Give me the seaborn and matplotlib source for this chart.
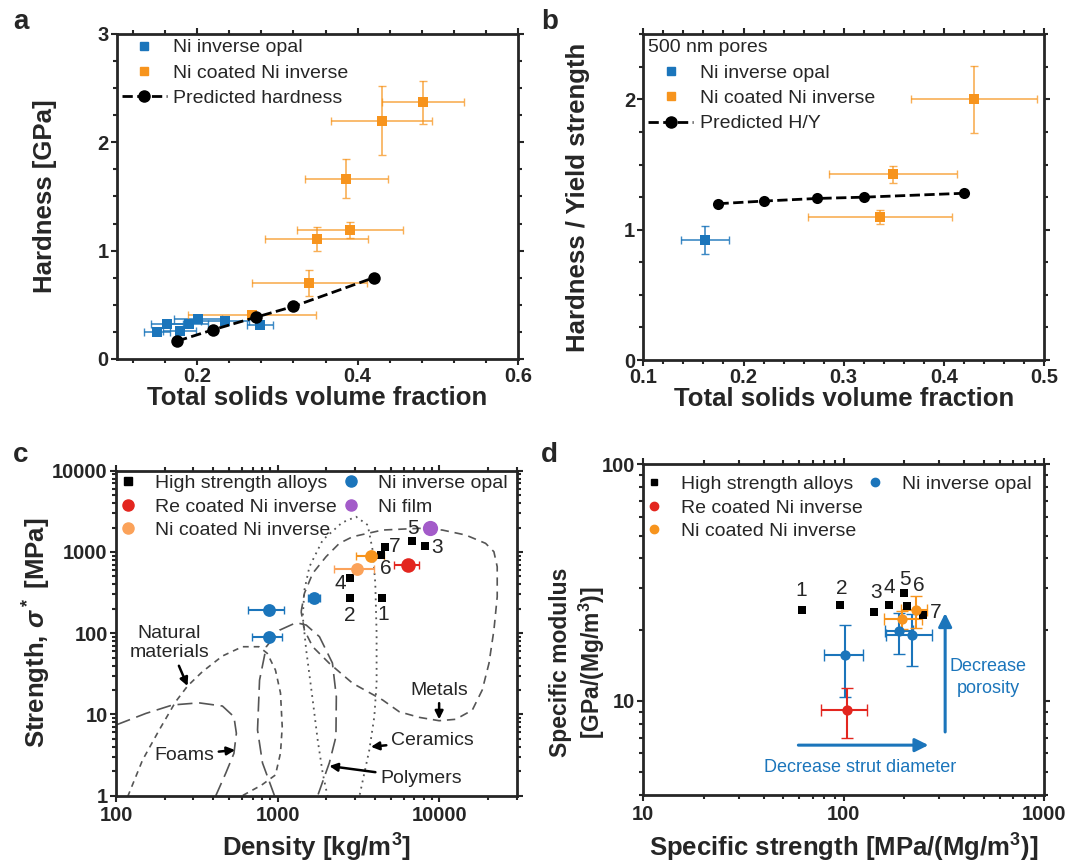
import matplotlib
matplotlib.use("Agg")
import matplotlib.pyplot as plt
import seaborn as sns
from matplotlib.lines import Line2D
from matplotlib.ticker import MultipleLocator, LogLocator, NullFormatter, FuncFormatter

# colours
BLUE = '#1b75bb'
ORANGE = '#f7941d'
LORANGE = '#fba25a'
RED = '#e3261f'
PURPLE = '#a35bc9'
GREY = '#555555'

# ---- panel a: hardness vs solids fraction
a_opal_x = [0.150, 0.162, 0.178, 0.190, 0.201, 0.235, 0.278]
a_opal_y = [0.25, 0.32, 0.255, 0.32, 0.37, 0.355, 0.315]
a_opal_xerr = [0.016, 0.020, 0.020, 0.024, 0.030, 0.030, 0.016]
a_opal_yerr = [0.02, 0.02, 0.02, 0.02, 0.02, 0.02, 0.02]

a_coat_x = [0.268, 0.340, 0.349, 0.391, 0.386, 0.430, 0.482]
a_coat_y = [0.41, 0.70, 1.11, 1.19, 1.665, 2.20, 2.37]
a_coat_xerr = [0.080, 0.072, 0.064, 0.066, 0.052, 0.063, 0.051]
a_coat_yerr = [0.02, 0.12, 0.11, 0.07, 0.18, 0.32, 0.20]

pred_x = [0.175, 0.220, 0.273, 0.320, 0.420]
pred_hard = [0.165, 0.27, 0.385, 0.485, 0.75]

# ---- panel b: H/Y ratio
b_opal_x = [0.162]
b_opal_y = [0.92]
b_opal_xerr = [0.024]
b_opal_yerr = [0.11]

b_coat_x = [0.336, 0.349, 0.430]
b_coat_y = [1.10, 1.425, 2.00]
b_coat_xerr = [0.072, 0.064, 0.063]
b_coat_yerr = [0.055, 0.067, 0.26]

pred_hy = [1.20, 1.22, 1.24, 1.25, 1.28]

# ---- panel c: Ashby strength vs density
alloy_ids = ['1', '2', '3', '4', '5', '6', '7']
alloy_rho = [4400, 2780, 8160, 2780, 6750, 4370, 4580]
alloy_str = [273, 268, 1180, 473, 1360, 916, 1160]

opal_rho = [877, 877, 1687]
opal_str = [193, 89.7, 273]
opal_rho_lo = [655, 697, 1535]
opal_rho_hi = [1101, 1067, 1829]

coat_rho = [3076, 3793]
coat_str = [611, 891]
coat_rho_lo = [2218, 3062]
coat_rho_hi = [3953, 4561]

re_rho = [6354]
re_str = [690]
re_rho_lo = [5200]
re_rho_hi = [7500]

film_rho = [8750]
film_str = [1990]

# material class envelopes (density, strength)
metals_rho = [1396, 1462, 1645, 1990, 2404, 2904, 4446, 7480, 10420, 14520, 19280, 21700,
              22750, 22750, 21700, 20230, 18380, 15950, 12600, 9950, 7480, 5640, 4446, 2904,
              2084, 1645, 1462, 1396]
metals_str = [184, 310, 546, 875, 1277, 1541, 1862, 1954, 1862, 1617, 1277, 1007,
              658, 281, 109, 42.6, 20, 11.3, 8.72, 8.38, 9.22, 10.8, 15.1, 24.2,
              42.6, 68.2, 109, 184]
ceramics_rho = [2036, 1897, 1766, 1645, 1500, 1428, 1462, 1570, 1897, 2500, 3048, 3600, 3860,
                4010, 4085, 4085, 3955, 3683, 3430, 3194]
ceramics_str = [0.97, 1.89, 4.85, 15.1, 62, 160, 340, 658, 1403, 2300, 2716, 2148, 1057,
                411, 100, 24.2, 9.4, 3.65, 1.89, 0.97]
polymers_rho = [955, 805, 750, 772, 850, 1026, 1300, 1500, 1811, 2178, 2303, 2290, 2084, 1766]
polymers_str = [1.0, 2.53, 6.44, 26.5, 68.2, 109, 135, 126, 90.6, 43, 16.5, 5.32, 2.53, 1.0]
natural_rho = [118, 146, 185, 234, 277, 342, 455, 604, 765, 861, 968, 1040, 1066, 1040,
               968, 794, 604]
natural_str = [0.97, 2.75, 6.44, 14.4, 22.4, 33.6, 52.4, 68.2, 68.2, 56.6, 35.2, 18.4, 7.07,
               3.35, 1.8, 1.35, 1.0]
foams_rho = [100, 153, 224, 326, 455, 536, 555, 536, 477, 414]
foams_str = [7.42, 10.3, 13.1, 13.9, 12.7, 9.38, 5.86, 3.32, 1.89, 1.0]

# ---- panel d: specific modulus vs specific strength
d_alloy_ss = [61.7, 95.9, 142, 169, 199, 206, 248]
d_alloy_sm = [24.3, 25.5, 23.7, 25.5, 28.5, 25.1, 23.1]

d_opal_ss = [101.6, 189.6, 220]
d_opal_sm = [15.6, 19.7, 18.9]
d_opal_ss_lo = [79.3, 160.6, 162.5]
d_opal_ss_hi = [124.4, 222.6, 277]
d_opal_sm_lo = [10.4, 15.85, 14.1]
d_opal_sm_hi = [20.9, 23.5, 23.3]

d_re_ss = [103.5]
d_re_sm = [9.16]
d_re_ss_lo = [76.8]
d_re_ss_hi = [131.3]
d_re_sm_lo = [7.0]
d_re_sm_hi = [11.3]

d_coat_ss = [196.3, 228.6]
d_coat_sm = [22.1, 24.3]
d_coat_ss_lo = [158.9, 193]
d_coat_ss_hi = [245, 262]
d_coat_sm_lo = [20.2, 20.3]
d_coat_sm_hi = [24.1, 27.8]


def asym(v, lo, hi):
    return [[a - b for a, b in zip(v, lo)], [b - a for a, b in zip(v, hi)]]


def style_axes(ax):
    for s in ax.spines.values():
        s.set_linewidth(2)
        s.set_visible(True)
    ax.tick_params(which='both', direction='out', top=True, right=True, width=1.5,
                   labelsize=14.5, pad=1.5)
    ax.tick_params(which='major', length=4.5)
    ax.tick_params(which='minor', length=3)


sns.set_style("ticks")
plt.rcParams['font.family'] = ['Liberation Sans', 'DejaVu Sans']
plt.rcParams['font.weight'] = 'bold'
plt.rcParams['axes.labelweight'] = 'bold'
plt.rcParams['mathtext.fontset'] = 'custom'
plt.rcParams['mathtext.rm'] = 'Liberation Sans:bold'
plt.rcParams['mathtext.it'] = 'Liberation Sans:bold:italic'
plt.rcParams['mathtext.bf'] = 'Liberation Sans:bold'

fig = plt.figure(figsize=(10.71, 8.65), dpi=100)
LEG = dict(size=14, weight='normal')
ANN = dict(fontsize=14, fontweight='normal')
LAB = 18.5
blank = Line2D([], [], ls='none')

# =========================== a
ax = fig.add_axes([0.1092, 0.585, 0.3745, 0.3757])
ax.errorbar(a_opal_x, a_opal_y, xerr=a_opal_xerr, yerr=a_opal_yerr, fmt='none',
            ecolor=BLUE, elinewidth=1.2, capsize=3, alpha=0.85, zorder=2)
ax.errorbar(a_coat_x, a_coat_y, xerr=a_coat_xerr, yerr=a_coat_yerr, fmt='none',
            ecolor=ORANGE, elinewidth=1.2, capsize=3, alpha=0.75, zorder=2)
sns.scatterplot(x=a_opal_x, y=a_opal_y, marker='s', color=BLUE, s=45, linewidth=0, ax=ax, zorder=3)
sns.scatterplot(x=a_coat_x, y=a_coat_y, marker='s', color=ORANGE, s=50, linewidth=0, ax=ax, zorder=3)
sns.lineplot(x=pred_x, y=pred_hard, color='k', linestyle='--', lw=2, marker='o', ms=9,
             markeredgewidth=0, ax=ax, zorder=4)
ax.set_xlim(0.1, 0.6)
ax.set_ylim(0, 3)
ax.xaxis.set_major_locator(MultipleLocator(0.2))
ax.xaxis.set_minor_locator(MultipleLocator(0.04))
ax.yaxis.set_major_locator(MultipleLocator(1))
ax.yaxis.set_minor_locator(MultipleLocator(0.25))
ax.xaxis.set_major_formatter(FuncFormatter(lambda v, p: f'{v:.1f}'))
style_axes(ax)
ax.set_xlabel('Total solids volume fraction', fontsize=LAB, labelpad=0)
ax.set_ylabel('Hardness [GPa]', fontsize=LAB, labelpad=29)
h = [Line2D([], [], marker='s', color=BLUE, ls='none', ms=6),
     Line2D([], [], marker='s', color=ORANGE, ls='none', ms=6),
     Line2D([], [], marker='o', color='k', ls='--', lw=2, ms=8)]
ax.legend(h, ['Ni inverse opal', 'Ni coated Ni inverse', 'Predicted hardness'], loc='upper left',
          frameon=False, prop=LEG, handlelength=2.3, handletextpad=0.35, labelspacing=0.4,
          borderaxespad=0.1, borderpad=0.15)

# =========================== b
ax = fig.add_axes([0.6007, 0.5838, 0.3741, 0.3765])
ax.errorbar(b_opal_x, b_opal_y, xerr=b_opal_xerr, yerr=b_opal_yerr, fmt='none',
            ecolor=BLUE, elinewidth=1.2, capsize=3, alpha=0.85, zorder=2)
ax.errorbar(b_coat_x, b_coat_y, xerr=b_coat_xerr, yerr=b_coat_yerr, fmt='none',
            ecolor=ORANGE, elinewidth=1.2, capsize=3, alpha=0.75, zorder=2)
sns.scatterplot(x=b_opal_x, y=b_opal_y, marker='s', color=BLUE, s=55, linewidth=0, ax=ax, zorder=3)
sns.scatterplot(x=b_coat_x, y=b_coat_y, marker='s', color=ORANGE, s=55, linewidth=0, ax=ax, zorder=3)
sns.lineplot(x=pred_x, y=pred_hy, color='k', linestyle='--', lw=2, marker='o', ms=8,
             markeredgewidth=0, ax=ax, zorder=4)
ax.set_xlim(0.1, 0.5)
ax.set_ylim(0, 2.5)
ax.xaxis.set_major_locator(MultipleLocator(0.1))
ax.xaxis.set_minor_locator(MultipleLocator(0.02))
ax.yaxis.set_major_locator(MultipleLocator(1))
ax.yaxis.set_minor_locator(MultipleLocator(0.25))
style_axes(ax)
ax.set_xlabel('Total solids volume fraction', fontsize=LAB, labelpad=0)
ax.set_ylabel('Hardness / Yield strength', fontsize=LAB, labelpad=24)
h = [Line2D([], [], marker='s', color=BLUE, ls='none', ms=6),
     Line2D([], [], marker='s', color=ORANGE, ls='none', ms=6),
     Line2D([], [], marker='o', color='k', ls='--', lw=2, ms=8)]
leg = ax.legend(h, ['Ni inverse opal', 'Ni coated Ni inverse', 'Predicted H/Y'], loc='upper left',
                title='500 nm pores', title_fontproperties=LEG, alignment='left',
                frameon=False, prop=LEG, handlelength=2.3, handletextpad=0.35, labelspacing=0.4,
                borderaxespad=0.1, borderpad=0.15)

# =========================== c
ax = fig.add_axes([0.1083, 0.0801, 0.3741, 0.3757])
ax.set_xscale('log')
ax.set_yscale('log')
ax.plot(metals_rho, metals_str, color=GREY, lw=1.2, dashes=(5, 3.5))
ax.plot(ceramics_rho, ceramics_str, color=GREY, lw=1.3, dashes=(1, 2.5))
ax.plot(polymers_rho, polymers_str, color=GREY, lw=1.2, dashes=(9, 4))
ax.plot(natural_rho, natural_str, color=GREY, lw=1.2, dashes=(3.5, 3))
ax.plot(foams_rho, foams_str, color=GREY, lw=1.2, dashes=(9, 4))

ax.errorbar(opal_rho, opal_str, xerr=asym(opal_rho, opal_rho_lo, opal_rho_hi), fmt='none',
            ecolor=BLUE, elinewidth=1.5, capsize=3, zorder=2)
ax.errorbar(coat_rho[:1], coat_str[:1], xerr=asym(coat_rho[:1], coat_rho_lo[:1], coat_rho_hi[:1]),
            fmt='none', ecolor=LORANGE, elinewidth=1.5, capsize=3, zorder=2)
ax.errorbar(coat_rho[1:], coat_str[1:], xerr=asym(coat_rho[1:], coat_rho_lo[1:], coat_rho_hi[1:]),
            fmt='none', ecolor=ORANGE, elinewidth=1.5, capsize=3, zorder=2)
ax.errorbar(re_rho, re_str, xerr=asym(re_rho, re_rho_lo, re_rho_hi), fmt='none',
            ecolor=RED, elinewidth=1.5, capsize=3, zorder=2)
sns.scatterplot(x=alloy_rho, y=alloy_str, marker='s', color='k', s=30, linewidth=0, ax=ax, zorder=3)
sns.scatterplot(x=opal_rho, y=opal_str, marker='o', color=BLUE, s=85, linewidth=0, ax=ax, zorder=3)
sns.scatterplot(x=coat_rho[:1], y=coat_str[:1], marker='o', color=LORANGE, s=85, linewidth=0, ax=ax, zorder=3)
sns.scatterplot(x=coat_rho[1:], y=coat_str[1:], marker='o', color=ORANGE, s=85, linewidth=0, ax=ax, zorder=3)
sns.scatterplot(x=re_rho, y=re_str, marker='o', color=RED, s=110, linewidth=0, ax=ax, zorder=3)
sns.scatterplot(x=film_rho, y=film_str, marker='o', color=PURPLE, s=120, linewidth=0, ax=ax, zorder=3)

c_offsets = [(1, -12), (0, -12), (8.5, -1), (-7, -4), (0.5, 9), (3, -10), (7.5, 0)]
for lab, x, y, off in zip(alloy_ids, alloy_rho, alloy_str, c_offsets):
    ax.annotate(lab, (x, y), xytext=off, textcoords='offset points', ha='center', va='center',
                fontsize=15, fontweight='normal')

arr = dict(arrowstyle='-|>', color='k', lw=1.8, mutation_scale=12, shrinkA=1, shrinkB=0)
ax.annotate('Natural\nmaterials', xy=(277, 22.4), xytext=(213, 76), ha='center', va='center',
            arrowprops=arr, **ANN)
ax.annotate('Foams', xy=(545, 3.65), xytext=(264, 3.17), ha='center', va='center',
            arrowprops=arr, **ANN)
ax.annotate('Ceramics', xy=(3767, 4.0), xytext=(9036, 4.75), ha='center', va='center',
            arrowprops=arr, **ANN)
ax.annotate('Polymers', xy=(2084, 2.32), xytext=(7673, 1.64), ha='center', va='center',
            arrowprops=arr, **ANN)
ax.annotate('Metals', xy=(9950, 8.7), xytext=(9950, 20), ha='center', va='center',
            arrowprops=arr, **ANN)

ax.set_xlim(100, 30000)
ax.set_ylim(1, 10000)
ax.xaxis.set_major_locator(LogLocator(base=10, numticks=10))
ax.xaxis.set_minor_locator(LogLocator(base=10, subs=range(2, 10), numticks=20))
ax.yaxis.set_major_locator(LogLocator(base=10, numticks=10))
ax.yaxis.set_minor_locator(LogLocator(base=10, subs=range(2, 10), numticks=20))
ax.xaxis.set_major_formatter(FuncFormatter(lambda v, p: f'{v:g}' if v < 1e5 else ''))
ax.yaxis.set_major_formatter(FuncFormatter(lambda v, p: f'{v:.0f}'))
ax.xaxis.set_minor_formatter(NullFormatter())
ax.yaxis.set_minor_formatter(NullFormatter())
style_axes(ax)
ax.tick_params(axis='x', pad=3)
ax.set_xlabel('Density [kg/m$^3$]', fontsize=LAB, labelpad=5)
ax.set_ylabel(r'Strength, $\sigma^*$ [MPa]', fontsize=LAB, labelpad=-0.5)
h = [Line2D([], [], marker='s', color='k', ls='none', ms=6),
     Line2D([], [], marker='o', color=RED, ls='none', ms=8),
     Line2D([], [], marker='o', color=LORANGE, ls='none', ms=8),
     Line2D([], [], marker='o', color=BLUE, ls='none', ms=8),
     Line2D([], [], marker='o', color=PURPLE, ls='none', ms=8)]
ax.legend(h, ['High strength alloys', 'Re coated Ni inverse', 'Ni coated Ni inverse',
              'Ni inverse opal', 'Ni film'], loc='upper left', ncol=2, frameon=False, prop=LEG,
          handlelength=0.8, handletextpad=1.0, labelspacing=0.3, columnspacing=0.35,
          borderaxespad=0.05, borderpad=0.15)

# =========================== d
ax = fig.add_axes([0.6007, 0.0809, 0.3741, 0.3823])
ax.set_xscale('log')
ax.set_yscale('log')
ax.errorbar(d_opal_ss, d_opal_sm, xerr=asym(d_opal_ss, d_opal_ss_lo, d_opal_ss_hi),
            yerr=asym(d_opal_sm, d_opal_sm_lo, d_opal_sm_hi), fmt='none', ecolor=BLUE,
            elinewidth=1.5, capsize=4, zorder=2)
ax.errorbar(d_re_ss, d_re_sm, xerr=asym(d_re_ss, d_re_ss_lo, d_re_ss_hi),
            yerr=asym(d_re_sm, d_re_sm_lo, d_re_sm_hi), fmt='none', ecolor=RED,
            elinewidth=1.5, capsize=4, zorder=2)
ax.errorbar(d_coat_ss, d_coat_sm, xerr=asym(d_coat_ss, d_coat_ss_lo, d_coat_ss_hi),
            yerr=asym(d_coat_sm, d_coat_sm_lo, d_coat_sm_hi), fmt='none', ecolor=ORANGE,
            elinewidth=1.5, capsize=4, zorder=2)
sns.scatterplot(x=d_alloy_ss, y=d_alloy_sm, marker='s', color='k', s=35, linewidth=0, ax=ax, zorder=3)
sns.scatterplot(x=d_opal_ss, y=d_opal_sm, marker='o', color=BLUE, s=55, linewidth=0, ax=ax, zorder=3)
sns.scatterplot(x=d_re_ss, y=d_re_sm, marker='o', color=RED, s=55, linewidth=0, ax=ax, zorder=3)
sns.scatterplot(x=d_coat_ss, y=d_coat_sm, marker='o', color=ORANGE, s=55, linewidth=0, ax=ax, zorder=3)

d_offsets = [(0, 13.5), (1, 12), (1, 14), (0, 12.5), (1, 10), (9, 15), (9.5, 2)]
for lab, x, y, off in zip(alloy_ids, d_alloy_ss, d_alloy_sm, d_offsets):
    ax.annotate(lab, (x, y), xytext=off, textcoords='offset points', ha='center', va='center',
                fontsize=15, fontweight='normal')

barr = dict(arrowstyle='-|>', color=BLUE, lw=2.2, mutation_scale=20, shrinkA=0, shrinkB=0)
ax.annotate('', xy=(265, 6.5), xytext=(59.4, 6.5), arrowprops=barr)
ax.annotate('', xy=(321, 23.5), xytext=(321, 7.39), arrowprops=barr)
ax.text(120.8, 5.25, 'Decrease strut diameter', color=BLUE, ha='center', va='center',
        fontsize=13, fontweight='normal')
ax.text(527, 12.6, 'Decrease\nporosity', color=BLUE, ha='center', va='center',
        fontsize=13, fontweight='normal', linespacing=1.4)

ax.set_xlim(10, 1000)
ax.set_ylim(4, 100)
ax.xaxis.set_major_locator(LogLocator(base=10, numticks=10))
ax.xaxis.set_minor_locator(LogLocator(base=10, subs=range(2, 10), numticks=20))
ax.yaxis.set_major_locator(LogLocator(base=10, numticks=10))
ax.yaxis.set_minor_locator(LogLocator(base=10, subs=range(2, 10), numticks=20))
ax.xaxis.set_major_formatter(FuncFormatter(lambda v, p: f'{v:g}'))
ax.yaxis.set_major_formatter(FuncFormatter(lambda v, p: f'{v:g}'))
ax.xaxis.set_minor_formatter(NullFormatter())
ax.yaxis.set_minor_formatter(NullFormatter())
style_axes(ax)
ax.tick_params(axis='x', pad=3)
ax.set_xlabel('Specific strength [MPa/(Mg/m$^3$)]', fontsize=LAB, labelpad=5)
ax.set_ylabel('Specific modulus\n[GPa/(Mg/m$^3$)]', fontsize=16.5)
ax.yaxis.set_label_coords(-0.09, 0.40)
h = [Line2D([], [], marker='s', color='k', ls='none', ms=5),
     Line2D([], [], marker='o', color=RED, ls='none', ms=6),
     Line2D([], [], marker='o', color=ORANGE, ls='none', ms=6),
     Line2D([], [], marker='o', color=BLUE, ls='none', ms=6),
     blank, blank]
ax.legend(h, ['High strength alloys', 'Re coated Ni inverse', 'Ni coated Ni inverse',
              'Ni inverse opal', '', ''], loc='upper left', bbox_to_anchor=(0.0, 0.975),
          ncol=2, frameon=False, prop=LEG,
          handlelength=0.8, handletextpad=1.0, labelspacing=0.3, columnspacing=0.2,
          borderaxespad=0, borderpad=0.15)

for lab, x, y in [('a', 0.012, 0.967), ('b', 0.505, 0.967), ('c', 0.012, 0.466), ('d', 0.505, 0.466)]:
    fig.text(x, y, lab, fontsize=20, fontweight='bold')

fig.savefig('out.png', dpi=100)
